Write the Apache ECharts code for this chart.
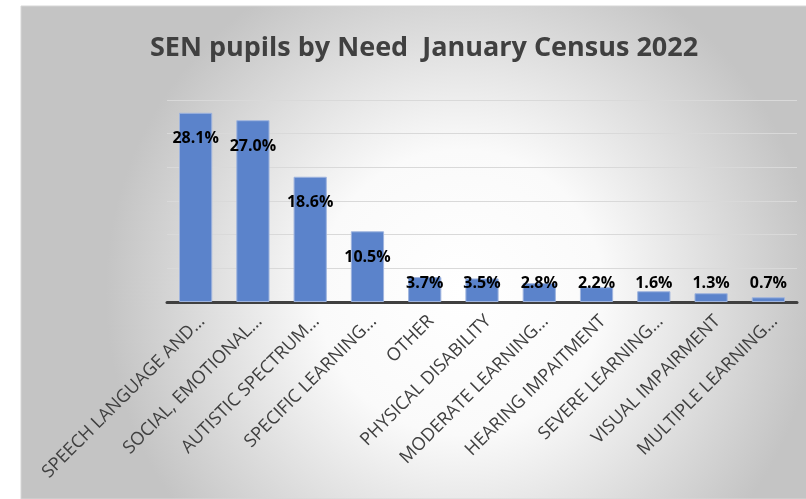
<!DOCTYPE html>
<html>
<head>
<meta charset="utf-8">
<script src="https://cdn.jsdelivr.net/npm/echarts@6/dist/echarts.min.js"></script>
<style>
  html, body { margin: 0; padding: 0; background: #fff; }
  #main { width: 806px; height: 499px; }
</style>
</head>
<body>
<div id="main"></div>
<script>
var categories = [
    'SPEECH LANGUAGE AND…', 'SOCIAL, EMOTIONAL…', 'AUTISTIC SPECTRUM…', 'SPECIFIC LEARNING…',
    'OTHER', 'PHYSICAL DISABILITY', 'MODERATE LEARNING…', 'HEARING IMPAITMENT',
    'SEVERE LEARNING…', 'VISUAL IMPAIRMENT', 'MULTIPLE LEARNING…'
];
var percentValues = [28.1, 27.0, 18.6, 10.5, 3.7, 3.5, 2.8, 2.2, 1.6, 1.3, 0.7];

var chartApp = {
    font: '"Open Sans", sans-serif',
    // small bars: label can't sit inside the top, keep it just above the axis
    buildData: function(values){
        var out = [];
        for (var i = 0; i < values.length; i++) {
            var v = values[i];
            if (v < 6.5) {
                out.push({ value: v, label: { position: 'insideBottom', distance: 11 } });
            } else {
                out.push(v);
            }
        }
        return out;
    },
    init: function(){
        var me = this;
        return {
            animation: false,
            backgroundColor: '#ffffff',
            graphic: [{
                type: 'rect',
                z: -10,
                silent: true,
                shape: { x: 21, y: 6, width: 800, height: 493 },
                style: {
                    fill: {
                        type: 'radial', x: 0.55, y: 0.58, r: 0.72,
                        colorStops: [
                            { offset: 0, color: '#ffffff' },
                            { offset: 0.4, color: '#fafafa' },
                            { offset: 1, color: '#c4c4c4' }
                        ]
                    },
                    stroke: '#d6d6d6',
                    lineWidth: 1
                }
            }],
            title: {
                text: 'SEN pupils by Need  January Census 2022',
                left: 145,
                top: 30,
                textStyle: {
                    fontFamily: me.font,
                    fontWeight: 'bold',
                    fontSize: 27,
                    color: '#404040'
                }
            },
            grid: {
                left: 167,
                right: 9,
                top: 100,
                bottom: 197
            },
            xAxis: {
                type: 'category',
                data: categories,
                axisLine: { lineStyle: { color: '#404040', width: 3 } },
                axisTick: { show: false },
                axisLabel: {
                    interval: 0,
                    rotate: 45,
                    margin: 10,
                    verticalAlign: 'top',
                    fontFamily: me.font,
                    fontSize: 18,
                    color: '#404040'
                }
            },
            yAxis: {
                type: 'value',
                min: 0,
                max: 30,
                interval: 5,
                axisLabel: { show: false },
                axisLine: { show: false },
                axisTick: { show: false },
                splitLine: { lineStyle: { color: '#d9d9d9', width: 1 } }
            },
            series: [{
                type: 'bar',
                barWidth: '58%',
                data: me.buildData(percentValues),
                itemStyle: {
                    color: '#5b83cb',
                    borderColor: '#9fb4de',
                    borderWidth: 1
                },
                label: {
                    show: true,
                    position: 'insideTop',
                    distance: 18,
                    fontFamily: me.font,
                    fontWeight: 'bold',
                    fontSize: 16,
                    color: '#000000',
                    formatter: function(p){
                        return p.value.toFixed(1) + '%';
                    }
                }
            }]
        };
    }
};

var myChart = echarts.init(document.getElementById('main'));
myChart.setOption(chartApp.init());
</script>
</body>
</html>
